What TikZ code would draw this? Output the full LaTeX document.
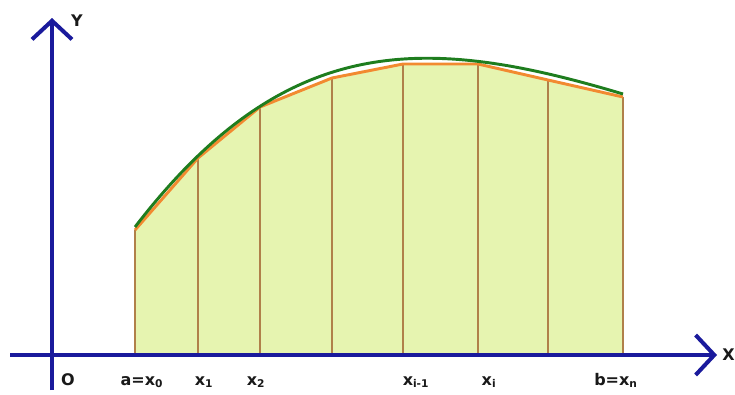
\documentclass[tikz,border=0pt]{standalone}
\usepackage{fontspec}
\setmainfont{DejaVu Sans}
\usetikzlibrary{arrows.meta}

\definecolor{axisblue}{HTML}{1A1A9C}
\definecolor{areagreen}{HTML}{E6F4B0}
\definecolor{stripbrown}{HTML}{B0804A}
\definecolor{chordorange}{HTML}{F28A30}
\definecolor{curvegreen}{HTML}{1E7D1E}

\begin{document}
\begin{tikzpicture}[
    x=0.75pt, y=-0.75pt,
    line join=round,
    font=\bfseries\fontsize{12}{14}\selectfont,
    axis/.style={draw=axisblue, line width=3pt,
      -{Straight Barb[length=14pt,width=30pt]}},
    strip/.style={draw=stripbrown, line width=1.8pt},
    chord/.style={draw=chordorange, line width=2.2pt},
    curve/.style={draw=curvegreen, line width=2.2pt},
    tick/.style={anchor=base, text=black!90}
  ]

  \useasboundingbox (0,0) rectangle (735,394);

  % ------------------ Layout ------------------
  \def\axisY{355}
  \def\axisX{52}
  \def\labelY{385}

  % ------------------ Partition points on the chords ------------------
  \foreach \name/\px/\py in {0/135/230, 1/198/158, 2/260/107, 3/332/78,
    4/403/64, 5/478/64, 6/548/80, 7/623/97} {
    \coordinate (p\name) at (\px,\py);
    \coordinate (q\name) at (\px,\axisY);
  }

  % ------------------ Area under the chords ------------------
  \fill[areagreen] (q0) -- (p0) -- (p1) -- (p2) -- (p3) -- (p4) -- (p5)
    -- (p6) -- (p7) -- (q7) -- cycle;

  % ------------------ Strips ------------------
  \foreach \i in {0,...,7} {
    \draw[strip] (q\i) -- (p\i);
  }

  % ------------------ Chords and curve ------------------
  \draw[chord] (p0) -- (p1) -- (p2) -- (p3) -- (p4) -- (p5) -- (p6) -- (p7);
  \coordinate (c0) at (135,227);
  \coordinate (c1) at (623,94);
  \draw[curve] (c0) .. controls (285,32) and (423,34) .. (c1);

  % ------------------ Axes ------------------
  \coordinate (xstart) at (10,\axisY);
  \coordinate (xend) at (717,\axisY);
  \coordinate (ystart) at (\axisX,390);
  \coordinate (yend) at (\axisX,18);
  \draw[axis] (xstart) -- (xend);
  \draw[axis] (ystart) -- (yend);

  \node[text=black!90] (lblY) at (77,21) {Y};
  \node[anchor=west, inner sep=0pt, text=black!90] (lblX) at (722,355) {X};

  % ------------------ Tick labels ------------------
  \node[tick] (lblO) at (68,\labelY) {O};
  \node[tick] (lbla) at (142,\labelY) {a=x\textsubscript{0}};
  \node[tick] (lblx1) at (204,\labelY) {x\textsubscript{1}};
  \node[tick] (lblx2) at (256,\labelY) {x\textsubscript{2}};
  \node[tick] (lblxi1) at (416,\labelY) {x\textsubscript{i-1}};
  \node[tick] (lblxi) at (489,\labelY) {x\textsubscript{i}};
  \node[tick] (lblb) at (616,\labelY) {b=x\textsubscript{n}};

\end{tikzpicture}
\end{document}
